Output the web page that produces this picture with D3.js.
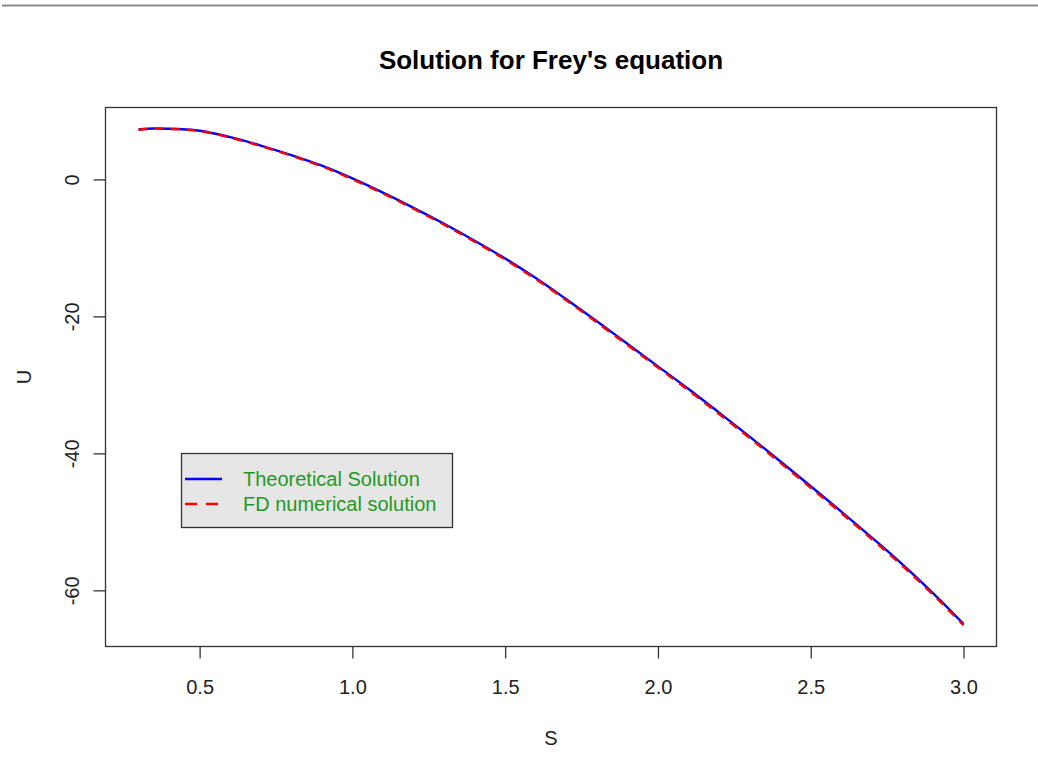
<!DOCTYPE html>
<html>
<head>
<meta charset="utf-8">
<script src="https://cdn.jsdelivr.net/npm/d3@7"></script>
<style>
  html, body { margin: 0; padding: 0; background: #fff; }
  svg { display: block; font-family: "Liberation Sans", Arial, sans-serif; }
</style>
</head>
<body>
<svg id="chart" width="1038" height="773"></svg>
<script>
// ---- data ----
const sValues = [0.30,0.35,0.40,0.50,0.60,0.70,0.80,0.90,1.00,1.10,1.20,1.30,1.40,1.50,1.60,1.70,1.80,1.90,2.00,2.10,2.20,2.30,2.40,2.50,2.60,2.70,2.80,2.90,3.00];
const theoretical = [7.29,7.43,7.40,7.10,6.17,4.94,3.55,2.00,0.14,-1.94,-4.15,-6.48,-8.95,-11.55,-14.40,-17.50,-20.70,-24.00,-27.30,-30.60,-34.05,-37.55,-41.15,-44.80,-48.50,-52.30,-56.20,-60.40,-64.90];
const fdNumerical = [7.25,7.40,7.36,7.05,6.10,4.86,3.46,1.90,0.02,-2.06,-4.28,-6.62,-9.10,-11.70,-14.56,-17.66,-20.88,-24.18,-27.48,-30.80,-34.25,-37.76,-41.36,-45.02,-48.72,-52.52,-56.42,-60.62,-65.10];
const xTicks = [0.5, 1.0, 1.5, 2.0, 2.5, 3.0];
const yTicks = [0, -20, -40, -60];
const seriesNames = ["Theoretical Solution", "FD numerical solution"];
const seriesColors = ["#0000FF", "#FF0000"];
const titleText = "Solution for Frey's equation";
const xLabel = "S";
const yLabel = "U";

// ---- layout ----
const box = { left: 105.5, right: 996.5, top: 107.5, bottom: 646.5 };
const svg = d3.select("#chart");

// top grey rule
svg.append("rect").attr("x", 2).attr("y", 4.5).attr("width", 1036).attr("height", 2).attr("fill", "#8c8c8c");

// R-style 4% extension
const xExt = d3.extent(sValues);
const xPad = (xExt[1] - xExt[0]) * 0.04;
const x = d3.scaleLinear().domain([xExt[0] - xPad, xExt[1] + xPad]).range([box.left, box.right]);
const y = d3.scaleLinear().domain([-68.2, 10.5]).range([box.bottom, box.top]);

const txtColor = "#222";
const axColor = "#333";

// x axis
const xAxis = d3.axisBottom(x).tickValues(xTicks).tickFormat(d => d.toFixed(1)).tickSize(12).tickSizeOuter(0);
const gx = svg.append("g").attr("transform", `translate(0,${box.bottom})`).call(xAxis);
gx.select(".domain").remove();
gx.selectAll(".tick line").attr("stroke", axColor).attr("stroke-width", 1.3);
gx.selectAll(".tick text").attr("fill", txtColor).attr("font-size", 20).attr("font-family", "Liberation Sans, Arial, sans-serif").attr("dy", null).attr("y", 47);

// y axis (hyphen-minus, as in R)
const yAxis = d3.axisLeft(y).tickValues(yTicks).tickFormat(d => String(d)).tickSize(12).tickSizeOuter(0);
const gy = svg.append("g").attr("transform", `translate(${box.left},0)`).call(yAxis);
gy.select(".domain").remove();
gy.selectAll(".tick line").attr("stroke", axColor).attr("stroke-width", 1.3);
gy.selectAll(".tick text")
  .attr("fill", txtColor).attr("font-size", 20).attr("font-family", "Liberation Sans, Arial, sans-serif")
  .attr("x", null).attr("dy", null).attr("text-anchor", "middle")
  .attr("transform", "translate(-34,0) rotate(-90)").attr("dominant-baseline", "central");

// box
svg.append("rect").attr("x", box.left).attr("y", box.top)
  .attr("width", box.right - box.left).attr("height", box.bottom - box.top)
  .attr("fill", "none").attr("stroke", axColor).attr("stroke-width", 1.3);

// lines
const line = d3.line().x(d => x(d[0])).y(d => y(d[1])).curve(d3.curveMonotoneX);
svg.append("path").datum(sValues.map((s, i) => [s, theoretical[i]]))
  .attr("d", line).attr("fill", "none").attr("stroke", seriesColors[0]).attr("stroke-width", 2.4);
svg.append("path").datum(sValues.map((s, i) => [s, fdNumerical[i]]))
  .attr("d", line).attr("fill", "none").attr("stroke", seriesColors[1]).attr("stroke-width", 2.4)
  .attr("stroke-dasharray", "9,7");

// title and labels
svg.append("text").attr("x", (box.left + box.right) / 2).attr("y", 69).attr("text-anchor", "middle")
  .attr("font-size", 26).attr("font-weight", "bold").attr("fill", "#000").text(titleText);
svg.append("text").attr("x", (box.left + box.right) / 2).attr("y", 745).attr("text-anchor", "middle")
  .attr("font-size", 20).attr("fill", txtColor).text(xLabel);
svg.append("text").attr("transform", `translate(24,${(box.top + box.bottom) / 2}) rotate(-90)`)
  .attr("text-anchor", "middle").attr("dominant-baseline", "central")
  .attr("font-size", 20).attr("fill", txtColor).text(yLabel);

// legend
const lg = svg.append("g");
lg.append("rect").attr("x", 181.5).attr("y", 453.5).attr("width", 271).attr("height", 74)
  .attr("fill", "#e6e6e6").attr("stroke", axColor).attr("stroke-width", 1.3);
const rowsY = [479, 504];
seriesNames.forEach((name, i) => {
  lg.append("line").attr("x1", 185).attr("x2", 222).attr("y1", rowsY[i]).attr("y2", rowsY[i])
    .attr("stroke", seriesColors[i]).attr("stroke-width", 2.4)
    .attr("stroke-dasharray", i === 1 ? "12,9" : null);
  lg.append("text").attr("x", 243).attr("y", rowsY[i]).attr("dominant-baseline", "central")
    .attr("font-size", 20).attr("fill", "#229922").text(name);
});
</script>
</body>
</html>
